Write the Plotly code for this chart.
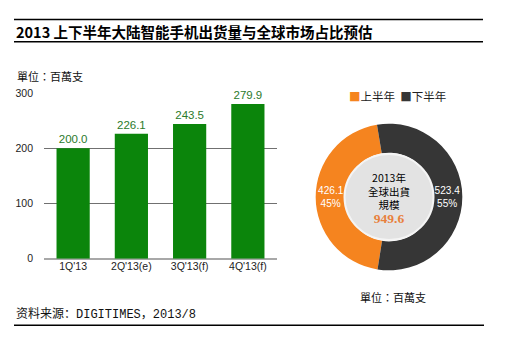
import plotly.graph_objects as go

# ---- data ----
quarters = ["1Q'13", "2Q'13(e)", "3Q'13(f)", "4Q'13(f)"]
shipments = [200.0, 226.1, 243.5, 279.9]
y_ticks = [0, 100, 200, 300]

half_labels = ["上半年", "下半年"]
half_values = [426.1, 523.4]
half_colors = ["#f5841f", "#363636"]
total_label = "949.6"
center_lines = ["2013年", "全球出貨", "規模"]

title_text = "2013 上下半年大陆智能手机出货量与全球市场占比预估"
unit_text = "單位：百萬支"
source_text = "资料来源：DIGITIMES，2013/8"

W, H = 506, 341
def px(x):
    return x / W
def py(y):
    return 1 - y / H

fig = go.Figure()

fig.add_trace(go.Bar(
    x=quarters, y=shipments,
    marker=dict(color="#0b850b", line=dict(width=0)),
    width=0.57,
    text=[f"{v:.1f}" for v in shipments],
    textposition="outside",
    textfont=dict(family="Arial, Liberation Sans", size=11.5, color="#2b7a2b"),
    cliponaxis=False,
    showlegend=False,
    xaxis="x", yaxis="y",
))

# donut
cx, cy, R = 389, 198, 76
hole_r = 46
fig.add_trace(go.Pie(
    labels=half_labels, values=half_values,
    marker=dict(colors=half_colors, line=dict(width=0)),
    hole=hole_r / R,
    sort=False, direction="clockwise", rotation=189,
    domain=dict(x=[px(cx - R), px(cx + R)], y=[py(cy + R), py(cy - R)]),
    texttemplate="%{value:.1f}<br>%{percent:.0%}",
    textposition="inside",
    insidetextorientation="horizontal",
    textfont=dict(family="Arial, Liberation Sans", size=10.5, color="white"),
    showlegend=False,
    hoverinfo="label+value+percent",
))

cjk = "Noto Sans CJK SC"
cjk_tc = "Noto Sans CJK TC"

shapes = [
    dict(type="line", xref="paper", yref="paper", x0=px(14), x1=px(483), y0=py(14), y1=py(14),
         line=dict(color="black", width=1.5)),
    dict(type="line", xref="paper", yref="paper", x0=px(14), x1=px(483), y0=py(37), y1=py(37),
         line=dict(color="black", width=1.5)),
    dict(type="line", xref="paper", yref="paper", x0=px(14), x1=px(484), y0=py(331), y1=py(331),
         line=dict(color="black", width=1.5)),
    dict(type="circle", xref="paper", yref="paper", layer="above",
         x0=px(cx - hole_r + 1.5), x1=px(cx + hole_r - 1.5), y0=py(cy + hole_r - 1.5), y1=py(cy - hole_r + 1.5),
         fillcolor="#e3e3e3", line=dict(color="#f4f4f4", width=2)),
]

center_text = "<br>".join(center_lines) + (
    "<br><span style='font-family:Liberation Serif, DejaVu Serif;font-size:13.5px;color:#e8803c'>"
    f"<b>{total_label}</b></span>")

annotations = [
    dict(text=f"<b>{title_text}</b>", x=px(14), y=py(26), xref="paper", yref="paper",
         xanchor="left", yanchor="middle", showarrow=False,
         font=dict(family=cjk, size=14.5, color="black")),
    dict(text=unit_text, x=px(15), y=py(73), xref="paper", yref="paper",
         xanchor="left", yanchor="middle", showarrow=False,
         font=dict(family=cjk_tc, size=11, color="#111")),
    dict(text=f"<span style='color:{half_colors[0]}'>■</span>{half_labels[0]}  "
              f"<span style='color:{half_colors[1]}'>■</span>{half_labels[1]}",
         x=px(347), y=py(93), xref="paper", yref="paper",
         xanchor="left", yanchor="middle", showarrow=False,
         font=dict(family=cjk_tc, size=11.5, color="#222")),
    dict(text=center_text, x=px(cx), y=py(199.5), xref="paper", yref="paper",
         xanchor="center", yanchor="middle", showarrow=False,
         font=dict(family=cjk_tc, size=10.5, color="black")),
    dict(text=unit_text, x=px(358), y=py(302), xref="paper", yref="paper",
         xanchor="left", yanchor="middle", showarrow=False,
         font=dict(family=cjk_tc, size=11, color="#111")),
    dict(text=source_text, x=px(14), y=py(320), xref="paper", yref="paper",
         xanchor="left", yanchor="middle", showarrow=False,
         font=dict(family="Liberation Mono, " + cjk, size=12, color="#111")),
]

fig.update_layout(
    width=W, height=H,
    margin=dict(l=0, r=0, t=0, b=0),
    paper_bgcolor="white", plot_bgcolor="white",
    xaxis=dict(domain=[px(44), px(277)], showgrid=False, showline=False, zeroline=False,
               ticks="", tickfont=dict(family="Arial, Liberation Sans", size=10.5, color="#222"),
               fixedrange=True),
    yaxis=dict(domain=[py(262), py(90)], range=[0, 300], tickvals=y_ticks,
               showgrid=True, gridcolor="#707070", gridwidth=1,
               zeroline=True, zerolinecolor="#a8a8a8", zerolinewidth=2,
               showline=False, ticks="", ticklabelstandoff=10,
               tickfont=dict(family="Arial, Liberation Sans", size=10.5, color="#222"),
               fixedrange=True),
    shapes=shapes,
    annotations=annotations,
    bargap=0.43,
)

fig.write_html("out.html")
